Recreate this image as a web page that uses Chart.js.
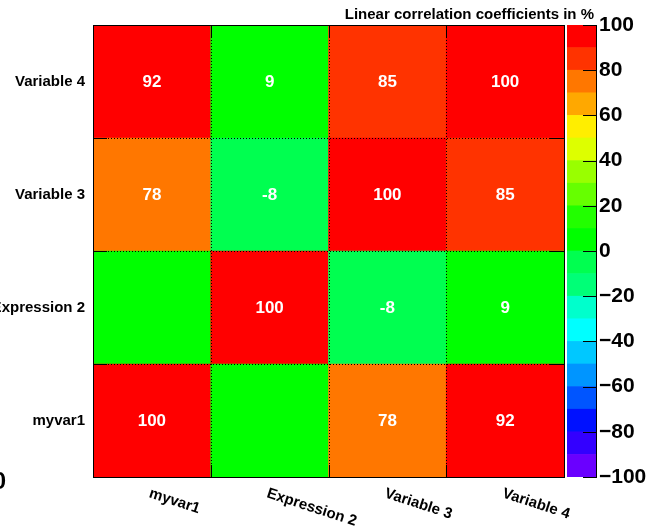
<!DOCTYPE html>
<html>
<head>
<meta charset="utf-8">
<script src="https://cdn.jsdelivr.net/npm/chart.js@4.4.1/dist/chart.umd.min.js"></script>
<style>
  html, body { margin: 0; padding: 0; background: #ffffff; }
  #wrap { position: relative; width: 667px; height: 530px; overflow: hidden; }
  #matrix { position: absolute; left: 0; top: 0; }
  #scale { position: absolute; left: 567px; top: 0; }
</style>
</head>
<body>
<div id="wrap">
  <canvas id="matrix" width="667" height="530"></canvas>
  <canvas id="scale" width="100" height="530"></canvas>
</div>
<script>
// Input variables (same order on both axes; rows listed bottom to top)
const variables = ['myvar1', 'Expression 2', 'Variable 3', 'Variable 4'];

// Linear correlation coefficients in %, one array per row (bottom to top)
const rowMyvar1      = [100,   0,  78,  92];
const rowExpression2 = [  0, 100,  -8,   9];
const rowVariable3   = [ 78,  -8, 100,  85];
const rowVariable4   = [ 92,   9,  85, 100];
const correlations = [rowMyvar1, rowExpression2, rowVariable3, rowVariable4];

// Colour scale from -100 to 100 in 20 bands of width 10
const scaleMin = -100;
const scaleMax = 100;
const scaleStep = 10;
const scaleTicks = [-100, -80, -60, -40, -20, 0, 20, 40, 60, 80, 100];
const palette = [
  '#6a00ff', '#3300ff', '#0011ff', '#0055ff', '#0095ff',
  '#00c8ff', '#00ffff', '#00ffcc', '#00ff77', '#00ff50',
  '#00ff00', '#22ff00', '#66ff00', '#99ff00', '#ddff00',
  '#ffee00', '#ffa800', '#ff7700', '#ff3300', '#ff0000'
];

const FONT = "'Liberation Sans', Arial, Helvetica, sans-serif";

function colourFor(v) {
  let idx = Math.floor((v - scaleMin) / scaleStep);
  idx = Math.max(0, Math.min(palette.length - 1, idx));
  return palette[idx];
}

// One floating-bar dataset per matrix row; each bar spans [row, row + 1]
const matrixDatasets = correlations.map((row, r) => ({
  label: variables[r],
  data: row.map(() => [r, r + 1]),
  values: row,
  backgroundColor: row.map(colourFor),
  borderWidth: 0,
  grouped: false,
  barPercentage: 1,
  categoryPercentage: 1
}));

// Grid, frame, cell values and rotated column labels
const matrixDecor = {
  id: 'matrixDecor',
  afterDatasetsDraw(chart) {
    const { ctx, chartArea: a, scales: { x, y } } = chart;
    const n = variables.length;
    const colEdge = i => (x.getPixelForValue(i - 1) + x.getPixelForValue(i)) / 2;
    ctx.save();
    ctx.strokeStyle = '#000';
    ctx.lineWidth = 1;
    // dotted bin boundaries
    ctx.setLineDash([1, 2]);
    for (let i = 1; i < n; i++) {
      const px = Math.round(colEdge(i)) + 0.5;
      ctx.beginPath(); ctx.moveTo(px, a.top); ctx.lineTo(px, a.bottom); ctx.stroke();
      const py = Math.round(y.getPixelForValue(i)) + 0.5;
      ctx.beginPath(); ctx.moveTo(a.left, py); ctx.lineTo(a.right, py); ctx.stroke();
    }
    ctx.setLineDash([]);
    // axis tick marks on all four sides
    for (let i = 1; i < n; i++) {
      const px = Math.round(colEdge(i)) + 0.5;
      ctx.beginPath();
      ctx.moveTo(px, a.bottom); ctx.lineTo(px, a.bottom - 12);
      ctx.moveTo(px, a.top); ctx.lineTo(px, a.top + 12);
      ctx.stroke();
      const py = Math.round(y.getPixelForValue(i)) + 0.5;
      ctx.beginPath();
      ctx.moveTo(a.left, py); ctx.lineTo(a.left + 14, py);
      ctx.moveTo(a.right, py); ctx.lineTo(a.right - 14, py);
      ctx.stroke();
    }
    // frame
    ctx.strokeRect(Math.round(a.left) + 0.5, Math.round(a.top) + 0.5,
                   Math.round(a.right - a.left), Math.round(a.bottom - a.top));

    // cell values
    ctx.fillStyle = '#ffffff';
    ctx.font = 'bold 17px ' + FONT;
    ctx.textAlign = 'center';
    ctx.textBaseline = 'middle';
    chart.data.datasets.forEach((ds, r) => {
      ds.values.forEach((v, c) => {
        const label = Math.round(v);
        if (label === 0) return;
        ctx.fillText(String(label), x.getPixelForValue(c), y.getPixelForValue(r + 0.5) + 1);
      });
    });

    // rotated column labels
    ctx.fillStyle = '#000';
    ctx.font = 'bold 15px ' + FONT;
    ctx.textAlign = 'left';
    ctx.textBaseline = 'top';
    variables.forEach((name, i) => {
      ctx.save();
      ctx.translate(x.getPixelForValue(i), a.bottom + 9);
      ctx.rotate(18 * Math.PI / 180);
      ctx.fillText(name, 0, 0);
      ctx.restore();
    });

    // title
    ctx.font = 'bold 15px ' + FONT;
    ctx.textAlign = 'right';
    ctx.textBaseline = 'alphabetic';
    ctx.fillText('Linear correlation coefficients in %', 594, 19);

    // stray label at the lower left edge
    ctx.font = 'bold 24px ' + FONT;
    ctx.textAlign = 'right';
    ctx.textBaseline = 'middle';
    ctx.fillText('0', 6, 482);
    ctx.restore();
  }
};

new Chart(document.getElementById('matrix'), {
  type: 'bar',
  data: { labels: variables, datasets: matrixDatasets },
  options: {
    responsive: false,
    animation: false,
    events: [],
    layout: { padding: { left: 0, top: 25, right: 103, bottom: 0 } },
    plugins: { legend: { display: false }, tooltip: { enabled: false }, title: { display: false } },
    scales: {
      x: {
        type: 'category',
        grid: { display: false },
        border: { display: false },
        ticks: { display: false },
        afterFit(s) { s.height = 53; }
      },
      y: {
        type: 'linear',
        min: 0,
        max: variables.length,
        grid: { display: false, drawTicks: false },
        border: { display: false },
        afterBuildTicks(s) { s.ticks = variables.map((_, i) => ({ value: i + 0.5 })); },
        ticks: {
          padding: 8,
          color: '#000',
          font: { family: FONT, size: 15, weight: 'bold' },
          callback: v => variables[Math.round(v - 0.5)]
        },
        afterFit(s) { s.width = 93; }
      }
    }
  },
  plugins: [matrixDecor]
});

// Colour scale bar: one floating bar per band
const bandDatasets = palette.map((col, i) => ({
  data: [[scaleMin + i * scaleStep, scaleMin + (i + 1) * scaleStep]],
  backgroundColor: col,
  borderWidth: 0,
  grouped: false,
  barPercentage: 1,
  categoryPercentage: 1
}));

// Inward tick marks on the colour scale axis
const scaleTickMarks = {
  id: 'scaleTickMarks',
  afterDatasetsDraw(chart) {
    const { ctx, chartArea: a, scales: { y } } = chart;
    ctx.save();
    ctx.strokeStyle = '#000';
    ctx.lineWidth = 1;
    scaleTicks.forEach(v => {
      const py = Math.round(y.getPixelForValue(v)) + 0.5;
      ctx.beginPath(); ctx.moveTo(a.right, py); ctx.lineTo(a.right - 13, py); ctx.stroke();
    });
    ctx.restore();
  }
};

new Chart(document.getElementById('scale'), {
  type: 'bar',
  data: { labels: [''], datasets: bandDatasets },
  options: {
    responsive: false,
    animation: false,
    events: [],
    layout: { padding: { left: 0, top: 25, right: 0, bottom: 53 } },
    plugins: { legend: { display: false }, tooltip: { enabled: false } },
    scales: {
      x: { display: false },
      y: {
        position: 'right',
        min: scaleMin,
        max: scaleMax,
        grid: { display: false, drawTicks: false },
        border: { display: true, color: '#000', width: 1 },
        afterBuildTicks(s) { s.ticks = scaleTicks.map(v => ({ value: v })); },
        ticks: {
          padding: 3,
          color: '#000',
          font: { family: FONT, size: 21, weight: 'bold' },
          callback: v => (v < 0 ? '\u2212' + Math.abs(v) : String(v))
        },
        afterFit(s) { s.width = 71; }
      }
    }
  },
  plugins: [scaleTickMarks]
});
</script>
</body>
</html>
